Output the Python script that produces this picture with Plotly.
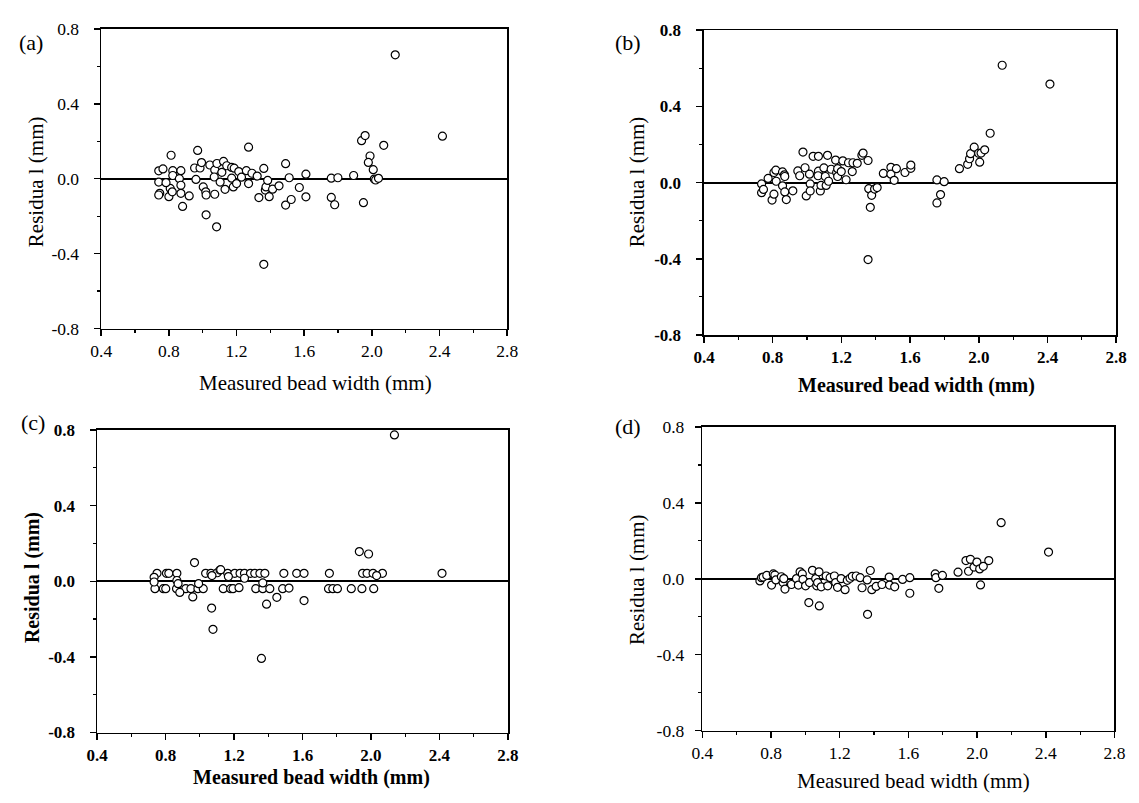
import plotly.graph_objects as go

W, H = 1139, 803

# ---------------- data ----------------
xa = [0.740, 0.765, 0.740, 0.746, 0.740, 0.800, 0.813, 0.823, 0.823, 0.808, 0.820, 0.783,
      0.871, 0.862, 0.871, 0.871, 0.881, 0.920, 0.952, 0.970, 0.984, 0.993, 0.960, 1.003,
      1.018, 1.020, 1.020, 1.042, 1.071, 1.068, 1.071, 1.082, 1.084, 1.103, 1.113, 1.123,
      1.132, 1.142, 1.171, 1.171, 1.181, 1.186, 1.200, 1.213, 1.229, 1.258, 1.271, 1.271,
      1.291, 1.322, 1.332, 1.361, 1.361, 1.370, 1.374, 1.384, 1.393, 1.413, 1.451, 1.490,
      1.490, 1.511, 1.523, 1.571, 1.610, 1.610, 1.760, 1.760, 1.780, 1.799, 1.892, 1.939,
      1.960, 1.950, 1.989, 1.979, 2.008, 2.014, 2.022, 2.039, 2.070, 2.138, 2.417]
ya = [0.042, 0.052, -0.018, -0.078, -0.087, -0.096, 0.125, 0.043, 0.017, -0.052, -0.070, -0.021,
      0.043, 0.000, -0.035, -0.078, -0.148, -0.092, 0.057, 0.151, 0.057, 0.086, -0.004, -0.044,
      -0.070, -0.087, -0.193, 0.073, 0.047, 0.009, -0.083, -0.257, 0.081, -0.018, 0.034, 0.092,
      -0.057, 0.069, 0.060, 0.003, -0.044, 0.056, -0.026, 0.038, 0.008, 0.043, -0.026, 0.168,
      0.029, 0.014, -0.101, 0.055, -0.457, -0.061, -0.044, -0.009, -0.096, -0.056, -0.038, 0.080,
      -0.141, 0.005, -0.111, -0.047, 0.024, -0.097, 0.003, -0.100, -0.139, 0.005, 0.017, 0.203,
      0.230, -0.128, 0.121, 0.087, 0.048, -0.002, -0.007, 0.002, 0.178, 0.661, 0.227]

xb = [0.735, 0.735, 0.746, 0.773, 0.796, 0.807, 0.807, 0.818, 0.820, 0.857, 0.857, 0.868,
      0.870, 0.870, 0.879, 0.917, 0.946, 0.957, 0.976, 0.988, 0.995, 1.014, 1.018, 1.018,
      1.035, 1.066, 1.066, 1.064, 1.077, 1.081, 1.098, 1.106, 1.111, 1.119, 1.125, 1.140,
      1.166, 1.172, 1.178, 1.178, 1.199, 1.208, 1.227, 1.241, 1.263, 1.267, 1.292, 1.319,
      1.326, 1.355, 1.359, 1.368, 1.355, 1.376, 1.393, 1.408, 1.444, 1.488, 1.488, 1.507,
      1.520, 1.570, 1.604, 1.604, 1.756, 1.756, 1.777, 1.798, 1.887, 1.935, 1.946, 1.952,
      1.973, 1.999, 2.005, 2.013, 2.034, 2.066, 2.136, 2.414]
yb = [-0.007, -0.053, -0.036, 0.022, -0.092, -0.061, 0.053, 0.065, 0.007, 0.056, -0.017, 0.041,
      0.032, -0.049, -0.089, -0.043, 0.061, 0.036, 0.160, 0.078, -0.070, 0.044, -0.007, -0.044,
      0.138, 0.138, 0.060, 0.036, -0.044, -0.015, 0.077, 0.032, -0.015, 0.143, 0.007, 0.070,
      0.118, 0.053, 0.073, 0.032, 0.058, 0.114, 0.015, 0.104, 0.058, 0.104, 0.101, 0.143,
      0.155, 0.116, -0.032, -0.130, -0.404, -0.067, -0.034, -0.026, 0.048, 0.080, 0.044, 0.012,
      0.073, 0.053, 0.075, 0.092, 0.014, -0.107, -0.063, 0.005, 0.073, 0.096, 0.125, 0.152,
      0.186, 0.154, 0.107, 0.155, 0.172, 0.259, 0.616, 0.517]

xc = [0.750, 0.805, 0.819, 0.866, 1.034, 1.065, 1.102, 1.118, 1.163, 1.204, 1.235, 1.261,
      1.296, 1.321, 1.351, 1.380, 1.491, 1.566, 1.609, 1.757, 1.951, 1.977, 2.012, 2.067,
      2.415, 2.033, 1.071, 1.167, 1.122,
      0.738, 0.787, 0.801, 0.864, 0.918, 0.948, 0.989, 1.020, 1.137, 1.180, 1.194, 1.229,
      1.327, 1.368, 1.409, 1.484, 1.521, 1.752, 1.777, 1.804, 1.885, 1.947, 2.016,
      0.733, 0.733, 0.866, 0.873, 0.993, 1.368, 1.261,
      0.969, 0.883, 0.959, 1.069, 1.077, 1.360, 1.390, 1.450, 1.609, 1.932, 1.986, 2.137]
yc = [0.042, 0.042, 0.042, 0.042, 0.042, 0.042, 0.045, 0.059, 0.042, 0.042, 0.042, 0.042,
      0.042, 0.042, 0.042, 0.042, 0.042, 0.042, 0.042, 0.042, 0.042, 0.042, 0.042, 0.042,
      0.042, 0.030, 0.030, 0.025, 0.061,
      -0.039, -0.039, -0.039, -0.039, -0.039, -0.039, -0.039, -0.039, -0.039, -0.039, -0.039, -0.034,
      -0.039, -0.039, -0.039, -0.039, -0.036, -0.039, -0.039, -0.039, -0.039, -0.039, -0.039,
      0.021, -0.004, 0.004, -0.013, -0.013, -0.009, 0.016,
      0.099, -0.059, -0.083, -0.142, -0.254, -0.408, -0.121, -0.085, -0.102, 0.157, 0.144, 0.774]

xd = [0.735, 0.744, 0.754, 0.775, 0.803, 0.813, 0.822, 0.828, 0.860, 0.870, 0.874, 0.881,
      0.919, 0.948, 0.959, 0.969, 0.982, 0.986, 1.001, 1.020, 1.024, 1.041, 1.060, 1.066,
      1.071, 1.079, 1.081, 1.092, 1.121, 1.130, 1.144, 1.169, 1.176, 1.187, 1.208, 1.231,
      1.244, 1.260, 1.273, 1.296, 1.319, 1.330, 1.360, 1.362, 1.378, 1.387, 1.412, 1.446,
      1.488, 1.490, 1.520, 1.566, 1.608, 1.608, 1.756, 1.760, 1.777, 1.798, 1.889, 1.935,
      1.950, 1.961, 1.982, 1.999, 2.015, 2.020, 2.036, 2.068, 2.140, 2.416]
yd = [-0.011, 0.006, 0.009, 0.018, -0.033, 0.026, 0.020, -0.006, 0.011, -0.020, 0.001, -0.054,
      -0.030, 0.001, -0.033, 0.037, 0.026, -0.003, -0.037, -0.125, -0.020, 0.045, 0.001, -0.037,
      -0.020, 0.037, -0.143, -0.042, 0.015, -0.037, 0.006, 0.015, -0.020, -0.045, 0.001, -0.057,
      -0.008, 0.003, 0.013, 0.015, 0.006, -0.047, -0.006, -0.187, 0.044, -0.057, -0.040, -0.030,
      0.009, -0.033, -0.042, -0.003, 0.006, -0.076, 0.026, 0.006, -0.050, 0.018, 0.035, 0.096,
      0.040, 0.103, 0.062, 0.088, 0.052, -0.032, 0.066, 0.096, 0.296, 0.141]

x_tickvals = [0.4, 0.8, 1.2, 1.6, 2.0, 2.4, 2.8]
x_ticktext = ["0.4", "0.8", "1.2", "1.6", "2.0", "2.4", "2.8"]
y_tickvals = [-0.8, -0.4, 0.0, 0.4, 0.8]
y_ticktext = ["-0.8", "-0.4", "0.0", "0.4", "0.8"]

panel_labels = ["(a)", "(b)", "(c)", "(d)"]
x_title = "Measured bead width (mm)"
y_title = "Residua l (mm)"

# ---------------- layout geometry (pixels) ----------------
boxes = [(92, 506, 19.3, 326.7),
         (706.7, 1127, 20.7, 333.3),
         (87.8, 506.7, 430.7, 741),
         (705, 1125.2, 427.7, 739)]
xtitle_pos = [(310, 383), (923, 385), (306, 787), (920, 791)]
ytitle_pos = [(25, 176), (638, 176), (22, 582), (639, 584)]
label_pos = [(20, 33), (629, 33), (22, 423), (629, 427)]
ylabel_gap = [11, 12, 11, 7]
zero_w = [2, 2, 2, 2]
# (x-title bold, y-title bold, tick labels bold) per panel
weights = [(False, False, False), (True, False, True), (True, True, True), (False, False, False)]

FONT = "Liberation Serif"

fig = go.Figure()
series = [(xa, ya), (xb, yb), (xc, yc), (xd, yd)]
for i, (xs, ys) in enumerate(series):
    suffix = "" if i == 0 else str(i + 1)
    fig.add_trace(go.Scatter(
        x=xs, y=ys, mode="markers",
        marker=dict(symbol="circle", size=8, color="white",
                    line=dict(color="black", width=1.2)),
        xaxis="x" + suffix, yaxis="y" + suffix, showlegend=False,
        hoverinfo="skip"))

annotations = []
for i, (l, r, t, b) in enumerate(boxes):
    suffix = "" if i == 0 else str(i + 1)
    bx, by, bt = weights[i]
    common = dict(showline=True, linecolor="black", linewidth=1.6, mirror=True,
                  showgrid=False, ticks="outside", ticklen=6, tickwidth=1.5,
                  tickcolor="black",
                  tickfont=dict(family=FONT, size=17 if bt else 17.5, color="black",
                                weight="bold" if bt else "normal"))
    fig.layout["xaxis" + suffix] = dict(
        domain=[l / W, r / W], anchor="y" + suffix, range=[0.4, 2.8],
        tickvals=x_tickvals, ticktext=x_ticktext, zeroline=False,
        minor=dict(tick0=0.4, dtick=0.2, ticks="outside", ticklen=3,
                   tickwidth=1.2, tickcolor="black"),
        **common)
    fig.layout["yaxis" + suffix] = dict(
        domain=[1 - b / H, 1 - t / H], anchor="x" + suffix, range=[-0.8, 0.8],
        tickvals=y_tickvals, ticktext=y_ticktext, zeroline=True,
        zerolinecolor="black", zerolinewidth=zero_w[i], ticklabelstandoff=ylabel_gap[i],
        minor=dict(tick0=-0.8, dtick=0.2, ticks="outside", ticklen=3,
                   tickwidth=1.2, tickcolor="black"),
        **common)
    xt = xtitle_pos[i]
    annotations.append(dict(text=x_title, xref="paper", yref="paper",
                            x=xt[0] / W, y=1 - xt[1] / H, xanchor="center", yanchor="middle",
                            showarrow=False,
                            font=dict(family=FONT, size=20 if bx else 21, color="black",
                                      weight="bold" if bx else "normal")))
    yt = ytitle_pos[i]
    annotations.append(dict(text=y_title, xref="paper", yref="paper", textangle=-90,
                            x=yt[0] / W, y=1 - yt[1] / H, xanchor="center", yanchor="middle",
                            showarrow=False,
                            font=dict(family=FONT, size=20 if by else 21, color="black",
                                      weight="bold" if by else "normal")))
    lp = label_pos[i]
    annotations.append(dict(text=panel_labels[i], xref="paper", yref="paper",
                            x=lp[0] / W, y=1 - lp[1] / H, xanchor="center", yanchor="middle",
                            showarrow=False, font=dict(family=FONT, size=22, color="black")))

fig.update_layout(width=W, height=H, margin=dict(l=0, r=0, t=0, b=0),
                  paper_bgcolor="white", plot_bgcolor="white", hovermode=False,
                  annotations=annotations, font=dict(family=FONT, color="black"))

fig.write_html("out.html", config={"displayModeBar": False, "staticPlot": True},
               post_script="document.body.style.margin='0';document.body.style.padding='0';")
